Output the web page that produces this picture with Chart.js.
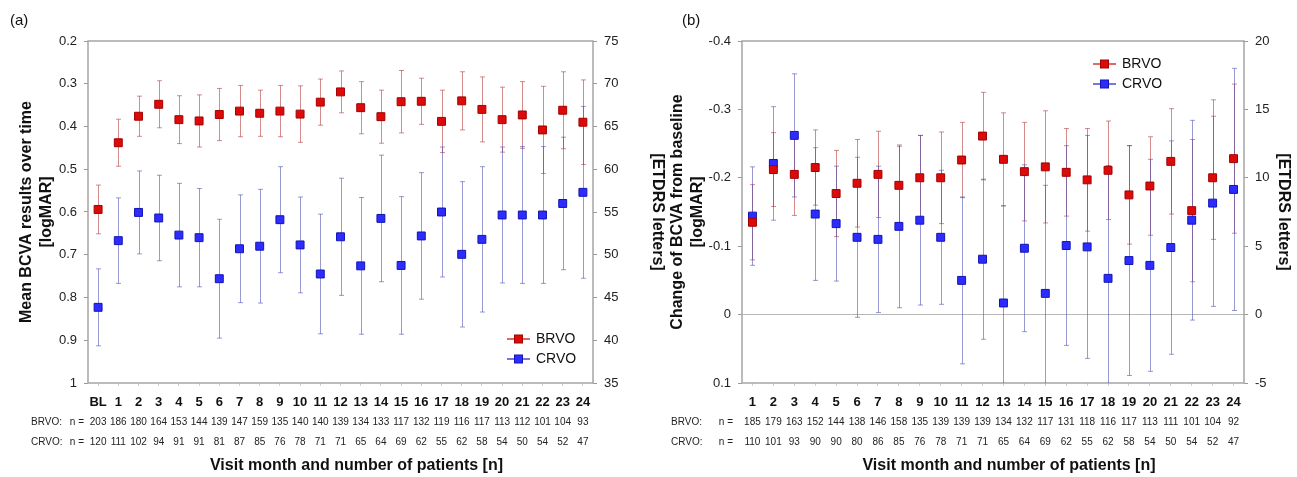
<!DOCTYPE html>
<html>
<head>
<meta charset="utf-8">
<script src="https://cdn.jsdelivr.net/npm/chart.js@4.4.1/dist/chart.umd.min.js"></script>
<style>
  html, body { margin: 0; padding: 0; background: #fff; }
  #wrap { position: relative; width: 1297px; height: 477px; overflow: hidden; }
  #wrap canvas { position: absolute; top: 0; }
  #chartA { left: 0; }
  #chartB { left: 668px; }
</style>
</head>
<body>
<div id="wrap">
  <canvas id="chartA" width="668" height="477"></canvas>
  <canvas id="chartB" width="629" height="477"></canvas>
</div>
<script>
// ---- panel (a): mean BCVA over time (logMAR, left axis) ----
const monthsA = ['BL', '1', '2', '3', '4', '5', '6', '7', '8', '9', '10', '11', '12',
  '13', '14', '15', '16', '17', '18', '19', '20', '21', '22', '23', '24'];
const brvoMeanA = [0.594, 0.438, 0.376, 0.348, 0.384, 0.387, 0.372, 0.364, 0.369, 0.364, 0.371, 0.343, 0.319,
  0.356, 0.377, 0.342, 0.341, 0.388, 0.340, 0.360, 0.384, 0.373, 0.408, 0.362, 0.390];
const brvoErrA = [0.057, 0.055, 0.047, 0.055, 0.056, 0.061, 0.061, 0.060, 0.054, 0.060, 0.066, 0.054, 0.049,
  0.061, 0.062, 0.073, 0.054, 0.073, 0.068, 0.076, 0.076, 0.078, 0.102, 0.090, 0.099];
const crvoMeanA = [0.823, 0.667, 0.601, 0.614, 0.654, 0.660, 0.756, 0.686, 0.680, 0.618, 0.677, 0.745, 0.658,
  0.726, 0.615, 0.725, 0.656, 0.600, 0.699, 0.664, 0.607, 0.607, 0.607, 0.580, 0.554];
const crvoErrA = [0.090, 0.100, 0.097, 0.100, 0.121, 0.115, 0.139, 0.126, 0.133, 0.124, 0.112, 0.140, 0.137,
  0.160, 0.148, 0.161, 0.148, 0.152, 0.170, 0.170, 0.159, 0.160, 0.160, 0.155, 0.201];
const brvoCountA = [203, 186, 180, 164, 153, 144, 139, 147, 159, 135, 140, 140, 139, 134, 133, 117, 132, 119, 116, 117, 113, 112, 101, 104, 93];
const crvoCountA = [120, 111, 102, 94, 91, 91, 81, 87, 85, 76, 78, 71, 71, 65, 64, 69, 62, 55, 62, 58, 54, 50, 54, 52, 47];
const logmarTicksA = [0.2, 0.3, 0.4, 0.5, 0.6, 0.7, 0.8, 0.9, 1];
const letterTicksA = [75, 70, 65, 60, 55, 50, 45, 40, 35];

// ---- panel (b): change from baseline ----
const monthsB = ['1', '2', '3', '4', '5', '6', '7', '8', '9', '10', '11', '12',
  '13', '14', '15', '16', '17', '18', '19', '20', '21', '22', '23', '24'];
const brvoMeanB = [-0.135, -0.212, -0.205, -0.215, -0.177, -0.192, -0.205, -0.189, -0.200, -0.200, -0.226, -0.261,
  -0.227, -0.209, -0.216, -0.208, -0.197, -0.211, -0.175, -0.188, -0.224, -0.152, -0.200, -0.228];
const brvoErrB = [0.055, 0.054, 0.060, 0.055, 0.063, 0.064, 0.063, 0.057, 0.062, 0.067, 0.055, 0.064,
  0.068, 0.072, 0.082, 0.064, 0.075, 0.072, 0.072, 0.072, 0.077, 0.104, 0.090, 0.109];
const crvoMeanB = [-0.144, -0.221, -0.262, -0.147, -0.133, -0.113, -0.110, -0.129, -0.138, -0.113, -0.050, -0.081,
  -0.017, -0.097, -0.031, -0.101, -0.099, -0.053, -0.079, -0.072, -0.098, -0.138, -0.163, -0.183];
const crvoErrB = [0.072, 0.083, 0.090, 0.097, 0.084, 0.117, 0.107, 0.119, 0.124, 0.098, 0.122, 0.117,
  0.142, 0.122, 0.158, 0.146, 0.163, 0.165, 0.168, 0.155, 0.156, 0.146, 0.151, 0.177];
const brvoCountB = [185, 179, 163, 152, 144, 138, 146, 158, 135, 139, 139, 139, 134, 132, 117, 131, 118, 116, 117, 113, 111, 101, 104, 92];
const crvoCountB = [110, 101, 93, 90, 90, 80, 86, 85, 76, 78, 71, 71, 65, 64, 69, 62, 55, 62, 58, 54, 50, 54, 52, 47];
const logmarTicksB = [-0.4, -0.3, -0.2, -0.1, 0, 0.1];
const letterTicksB = [20, 15, 10, 5, 0, -5];

const FONT = "'Liberation Sans', Arial, Helvetica, sans-serif";
Chart.defaults.font.family = FONT;
Chart.defaults.color = '#222';

const RED = '#dd0a0a', RED_EDGE = '#a30000';
const BLUE = '#2c2cff', BLUE_EDGE = '#1414b4';

// error bars + frame, drawn under the markers
const errorBars = {
  id: 'errorBars',
  beforeDatasetsDraw(chart) {
    const { ctx, chartArea: a, scales } = chart;
    ctx.save();
    ctx.strokeStyle = '#a5a5a5';
    ctx.lineWidth = 1.5;
    ctx.strokeRect(a.left, a.top, a.width, a.height);
    ctx.beginPath();
    ctx.rect(a.left, a.top, a.width, a.height);
    ctx.clip();
    chart.data.datasets.forEach((ds, i) => {
      const meta = chart.getDatasetMeta(i);
      ctx.strokeStyle = ds.errorColor;
      ctx.lineWidth = 1;
      meta.data.forEach((pt, j) => {
        const top = scales.y.getPixelForValue(ds.data[j] - ds.errors[j]);
        const bot = scales.y.getPixelForValue(ds.data[j] + ds.errors[j]);
        const x = Math.round(pt.x) + 0.5;
        ctx.beginPath();
        ctx.moveTo(x, top); ctx.lineTo(x, bot);
        ctx.moveTo(x - 2.5, top); ctx.lineTo(x + 2.5, top);
        ctx.moveTo(x - 2.5, bot); ctx.lineTo(x + 2.5, bot);
        ctx.stroke();
      });
    });
    ctx.restore();
  }
};

// panel tag, legend, n-table row labels, bottom title
const decor = {
  id: 'decor',
  afterDraw(chart, args, o) {
    const { ctx, chartArea: a } = chart;
    ctx.save();
    ctx.fillStyle = '#111';
    ctx.textBaseline = 'middle';
    ctx.font = '15px ' + FONT;
    ctx.textAlign = 'left';
    ctx.fillText(o.tag, o.tagX, 21);

    // legend: short line with the marker in the middle
    const ly = o.legendFromBottom ? a.bottom - o.legendY : a.top + o.legendY;
    chart.data.datasets.forEach((ds, i) => {
      const y = ly + i * 20;
      const x0 = a.right - o.legendX;
      ctx.strokeStyle = ds.legendLine;
      ctx.lineWidth = 1.5;
      ctx.beginPath();
      ctx.moveTo(x0, y); ctx.lineTo(x0 + 23, y);
      ctx.stroke();
      ctx.fillStyle = ds.pointBackgroundColor;
      ctx.strokeStyle = ds.pointBorderColor;
      ctx.lineWidth = 1;
      ctx.fillRect(x0 + 7.5, y - 4, 8, 8);
      ctx.strokeRect(x0 + 7.5, y - 4, 8, 8);
      ctx.fillStyle = '#111';
      ctx.font = '14px ' + FONT;
      ctx.fillText(ds.label, x0 + 29, y);
    });

    // row labels of the patient count table
    ctx.font = '10px ' + FONT;
    ctx.fillStyle = '#222';
    ['BRVO:', 'CRVO:'].forEach((t, i) => {
      const y = 422 + i * 20.5;
      ctx.textAlign = 'left';
      ctx.fillText(t, o.rowLabelX, y);
      ctx.textAlign = 'right';
      ctx.fillText('n =', o.nLabelX, y);
    });

    ctx.textAlign = 'center';
    ctx.font = 'bold 16px ' + FONT;
    ctx.fillStyle = '#111';
    ctx.fillText('Visit month and number of patients [n]', (a.left + a.right) / 2 + 16, 466);
    ctx.restore();
  }
};

function fmt(v) {
  return String(parseFloat(v.toFixed(1)));
}

function makePanel(id, p) {
  const tickList = arr => s => { s.ticks = arr.map(v => ({ value: v })); };
  return new Chart(document.getElementById(id), {
    type: 'line',
    data: {
      labels: p.months,
      datasets: [
        {
          label: 'BRVO', data: p.brvo, errors: p.brvoErr,
          errorColor: 'rgba(175, 45, 45, 0.55)', legendLine: '#cc3a3a',
          showLine: false, pointStyle: 'rect', pointRadius: 5.6,
          pointBackgroundColor: RED, pointBorderColor: RED_EDGE, pointBorderWidth: 1,
          yAxisID: 'y'
        },
        {
          label: 'CRVO', data: p.crvo, errors: p.crvoErr,
          errorColor: 'rgba(70, 70, 175, 0.55)', legendLine: '#4a4ad0',
          showLine: false, pointStyle: 'rect', pointRadius: 5.6,
          pointBackgroundColor: BLUE, pointBorderColor: BLUE_EDGE, pointBorderWidth: 1,
          yAxisID: 'y'
        }
      ]
    },
    options: {
      responsive: false,
      animation: false,
      events: [],
      layout: { padding: { top: 41, left: 0, right: 0, bottom: 0 } },
      plugins: {
        legend: { display: false },
        tooltip: { enabled: false },
        decor: p.decor
      },
      scales: {
        x: {
          type: 'category', position: 'bottom', offset: true, weight: 0,
          grid: { display: true, drawOnChartArea: false, offset: false, tickLength: 3, color: '#d0d0d0' },
          border: { display: false },
          ticks: { autoSkip: false, maxRotation: 0, padding: 9, color: '#111',
                   font: { size: 13, weight: 'bold' } },
          afterFit: s => { s.height = 28; }
        },
        x2: {
          type: 'category', position: 'bottom', offset: true, weight: 1,
          labels: p.counts,
          grid: { display: false, drawTicks: false },
          border: { display: false },
          ticks: { autoSkip: false, maxRotation: 0, padding: 0.5, color: '#222',
                   font: { size: 10, lineHeight: '20.5px' } },
          afterFit: s => { s.height = 66; }
        },
        y: {
          position: 'left', reverse: true, min: p.yMin, max: p.yMax,
          afterBuildTicks: tickList(p.logmarTicks),
          grid: {
            drawOnChartArea: p.zeroLine, tickLength: 4, tickColor: '#999',
            color: c => (p.zeroLine && c.tick && c.tick.value === 0) ? '#b8b8b8' : 'rgba(0,0,0,0)'
          },
          border: { display: false },
          ticks: { padding: 7, color: '#222', font: { size: 13 }, callback: v => fmt(v) },
          title: { display: true, text: p.leftTitle, color: '#111',
                   font: { size: 16, weight: 'bold', lineHeight: 1.25 }, padding: { top: p.leftTitlePad, bottom: 0 } },
          afterFit: s => { s.width = p.leftWidth; }
        },
        y2: {
          position: 'right', min: p.lMin, max: p.lMax,
          afterBuildTicks: tickList(p.letterTicks),
          grid: { drawOnChartArea: false, tickLength: 4, color: '#999' },
          border: { display: false },
          ticks: { padding: 7, color: '#222', font: { size: 13 } },
          title: { display: true, text: '[ETDRS letters]', color: '#111',
                   font: { size: 16, weight: 'bold', lineHeight: 1.25 }, padding: { top: p.rightTitlePad, bottom: 0 } },
          afterFit: s => { s.width = p.rightWidth; }
        }
      }
    },
    plugins: [errorBars, decor]
  });
}

makePanel('chartA', {
  months: monthsA, brvo: brvoMeanA, brvoErr: brvoErrA, crvo: crvoMeanA, crvoErr: crvoErrA,
  counts: brvoCountA.map((n, i) => [String(n), String(crvoCountA[i])]),
  yMin: 0.2, yMax: 1, lMin: 35, lMax: 75,
  logmarTicks: logmarTicksA, letterTicks: letterTicksA, zeroLine: false,
  leftTitle: ['Mean BCVA results over time', '[logMAR]'],
  leftTitlePad: 17, rightTitlePad: 1, leftWidth: 88, rightWidth: 75,
  decor: { tag: '(a)', tagX: 10, legendX: 86, legendY: 44, legendFromBottom: true, rowLabelX: 31, nLabelX: 84 }
});

makePanel('chartB', {
  months: monthsB, brvo: brvoMeanB, brvoErr: brvoErrB, crvo: crvoMeanB, crvoErr: crvoErrB,
  counts: brvoCountB.map((n, i) => [String(n), String(crvoCountB[i])]),
  yMin: -0.4, yMax: 0.1, lMin: -5, lMax: 20,
  logmarTicks: logmarTicksB, letterTicks: letterTicksB, zeroLine: true,
  leftTitle: ['Change of BCVA from baseline', '[logMAR]'],
  leftTitlePad: 0, rightTitlePad: 4, leftWidth: 74, rightWidth: 53,
  decor: { tag: '(b)', tagX: 14, legendX: 151, legendY: 23, legendFromBottom: false, rowLabelX: 3, nLabelX: 65 }
});
</script>
</body>
</html>
